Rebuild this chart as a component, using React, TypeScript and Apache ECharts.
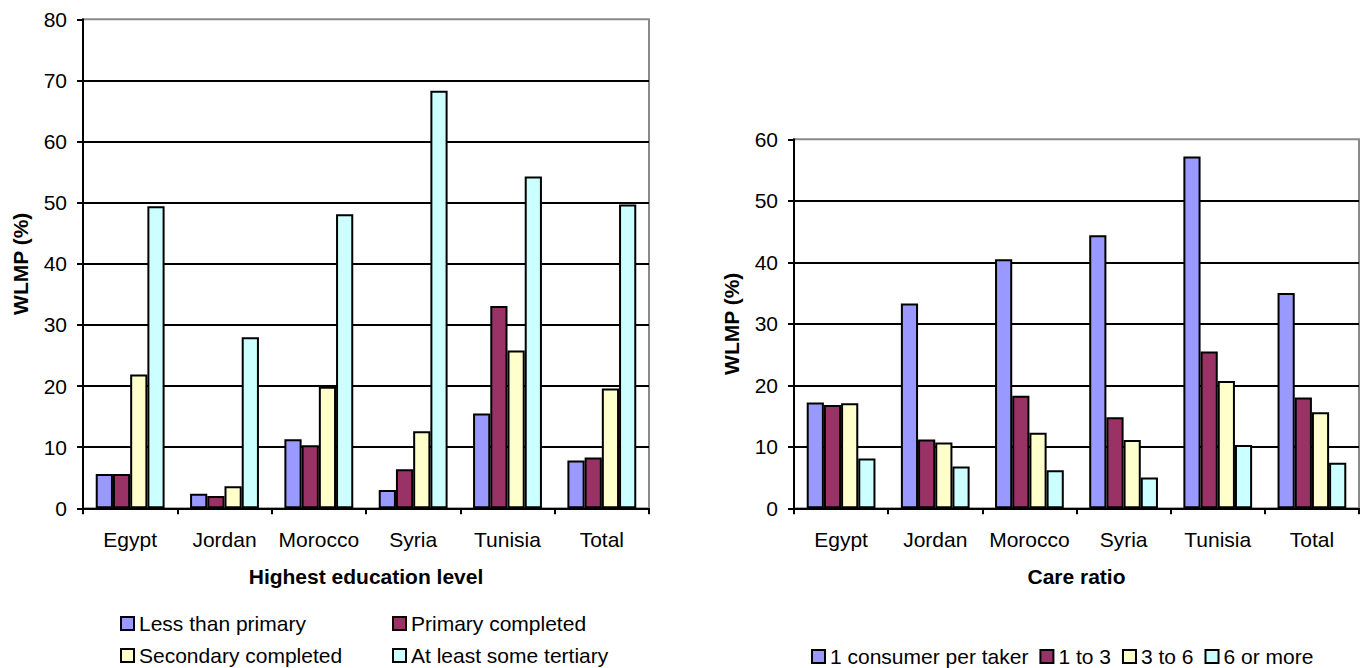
import React, { useEffect, useRef } from "react";
import * as echarts from "echarts";

const categories = ["Egypt", "Jordan", "Morocco", "Syria", "Tunisia", "Total"];

const eduNames = ["Less than primary", "Primary completed", "Secondary completed", "At least some tertiary"];
const eduLessThanPrimary = [5.6, 2.4, 11.3, 3.0, 15.5, 7.8];
const eduPrimaryCompleted = [5.6, 2.0, 10.3, 6.4, 33.1, 8.3];
const eduSecondaryCompleted = [21.9, 3.6, 19.9, 12.6, 25.8, 19.6];
const eduSomeTertiary = [49.4, 28.0, 48.1, 68.3, 54.3, 49.7];

const careNames = ["1 consumer per taker", "1 to 3", "3 to 6", "6 or more"];
const careOne = [17.2, 33.3, 40.5, 44.4, 57.2, 35.0];
const careOneToThree = [16.8, 11.2, 18.3, 14.8, 25.5, 18.0];
const careThreeToSix = [17.1, 10.7, 12.3, 11.1, 20.7, 15.6];
const careSixOrMore = [8.1, 6.8, 6.2, 5.0, 10.3, 7.4];

const colors = ["#9999FF", "#993366", "#FFFFCC", "#CCFFFF"];
const FONT = "'Liberation Sans', Arial, sans-serif";
const FS = 21;

function makeXAxis(gridIndex: number, name: string) {
  return {
    type: "category",
    gridIndex,
    data: categories,
    name,
    nameLocation: "middle",
    nameGap: 58,
    nameTextStyle: { fontFamily: FONT, fontSize: FS, fontWeight: "bold", color: "#000" },
    axisLine: { show: true, lineStyle: { color: "#000", width: 2 } },
    axisTick: { show: true, length: 6, interval: 0, lineStyle: { color: "#000", width: 2 } },
    axisLabel: { fontFamily: FONT, fontSize: FS, color: "#000", margin: 21, interval: 0 },
    splitLine: { show: false },
  };
}

function makeYAxis(gridIndex: number, max: number) {
  return {
    type: "value",
    gridIndex,
    min: 0,
    max,
    interval: 10,
    name: "WLMP (%)",
    nameLocation: "middle",
    nameGap: 52,
    nameTextStyle: { fontFamily: FONT, fontSize: FS, fontWeight: "bold", color: "#000" },
    axisLine: { show: true, lineStyle: { color: "#000", width: 2 } },
    axisTick: { show: true, length: 6, lineStyle: { color: "#000", width: 2 } },
    axisLabel: { fontFamily: FONT, fontSize: FS, color: "#000", margin: 16 },
    splitLine: { show: true, showMinLine: false, showMaxLine: false, lineStyle: { color: "#000", width: 2 } },
  };
}

function makeSeries(name: string, data: number[], idx: number, axisIndex: number) {
  return {
    type: "bar",
    name,
    data,
    xAxisIndex: axisIndex,
    yAxisIndex: axisIndex,
    barGap: "0%",
    barCategoryGap: "27%",
    itemStyle: { color: colors[idx], borderColor: "#000", borderWidth: 2 },
  };
}

const legendBase = {
  icon: "rect",
  orient: "horizontal",
  itemWidth: 13,
  itemHeight: 13,
  itemStyle: { borderColor: "#000", borderWidth: 2 },
  textStyle: { fontFamily: FONT, fontSize: FS, color: "#000", lineHeight: 20 },
  selectedMode: false,
};

export default function App() {
  const ref = useRef<HTMLDivElement>(null);
  useEffect(() => {
    if (!ref.current) return;
    const chart = echarts.init(ref.current, undefined, { renderer: "svg" });
    const eduData = [eduLessThanPrimary, eduPrimaryCompleted, eduSecondaryCompleted, eduSomeTertiary];
    const careData = [careOne, careOneToThree, careThreeToSix, careSixOrMore];
    chart.setOption({
      animation: false,
      backgroundColor: "#fff",
      grid: [
        { left: 83, right: 717, top: 19.3, bottom: 159.7, show: true, borderColor: "#8a8a8a", borderWidth: 2, backgroundColor: "transparent" },
        { left: 794, right: 7, top: 139.3, bottom: 159.7, show: true, borderColor: "#8a8a8a", borderWidth: 2, backgroundColor: "transparent" },
      ],
      xAxis: [makeXAxis(0, "Highest education level"), makeXAxis(1, "Care ratio")],
      yAxis: [makeYAxis(0, 80), makeYAxis(1, 60)],
      legend: [
        { ...legendBase, left: 115, top: 608, data: [eduNames[0]] },
        { ...legendBase, left: 387, top: 608, data: [eduNames[1]] },
        { ...legendBase, left: 115, top: 640, data: [eduNames[2]] },
        { ...legendBase, left: 387, top: 640, data: [eduNames[3]] },
        { ...legendBase, left: 806, top: 641, itemGap: 11, data: careNames },
      ],
      series: [
        ...eduNames.map((n, i) => makeSeries(n, eduData[i], i, 0)),
        ...careNames.map((n, i) => makeSeries(n, careData[i], i, 1)),
      ],
    });
    return () => chart.dispose();
  }, []);
  return (
    <div
      ref={ref}
      style={{ position: "fixed", left: 0, top: 0, width: 1366, height: 668, background: "#fff" }}
    />
  );
}
